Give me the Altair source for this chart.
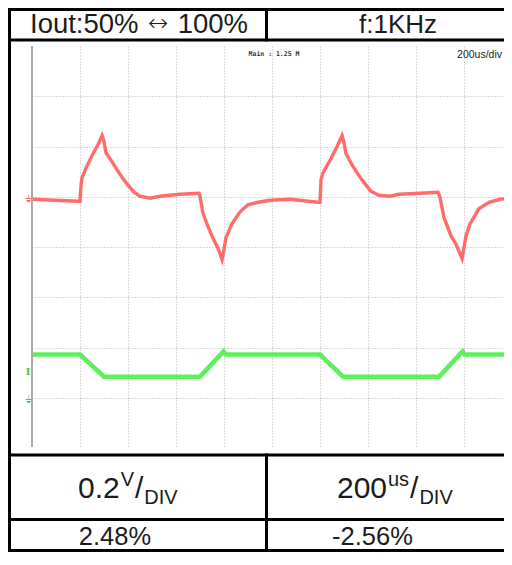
import altair as alt
import pandas as pd

# ---------------- data ----------------
# time in microseconds (200 us / div), level in screen divisions (0 = bottom, 8 = top)
x_grid = [200, 400, 600, 800, 1000, 1200, 1400, 1600, 1800]
y_grid = [1, 2, 3, 4, 5, 6, 7]

red_t = [0, 192, 200, 204, 208, 225, 250, 275, 292, 300, 308, 325, 350, 375, 400, 425,
         450, 492, 533, 617, 696, 700, 712, 729, 750, 775, 792, 800, 808, 833, 867,
         900, 942, 992, 1075, 1192, 1200, 1204, 1212, 1246, 1271, 1292, 1300, 1308,
         1333, 1358, 1379, 1412, 1446, 1492, 1529, 1617, 1692, 1700, 1717, 1746, 1767,
         1792, 1800, 1808, 1825, 1862, 1904, 1950, 1996]
red_v = [4.95, 4.91, 4.91, 5.21, 5.37, 5.57, 5.82, 6.04, 6.22, 6.10, 5.88, 5.76, 5.57,
         5.39, 5.23, 5.09, 5.01, 4.97, 5.01, 5.05, 5.07, 5.01, 4.68, 4.46, 4.22, 3.97,
         3.75, 3.95, 4.18, 4.46, 4.70, 4.84, 4.89, 4.93, 4.95, 4.89, 4.89, 5.33, 5.47,
         5.76, 6.00, 6.22, 6.08, 5.86, 5.64, 5.45, 5.31, 5.11, 5.03, 5.01, 5.05, 5.07,
         5.09, 4.99, 4.58, 4.22, 4.05, 3.77, 3.99, 4.22, 4.46, 4.76, 4.89, 4.95, 4.97]

green_t = [0, 200, 300, 700, 798, 806, 1200, 1296, 1696, 1794, 1802, 1996]
green_v = [1.86, 1.86, 1.42, 1.42, 1.92, 1.86, 1.86, 1.42, 1.42, 1.92, 1.86, 1.86]

# channel reference markers (level in divisions)
marker_levels = [4.96, 1.52, 0.95]

header_left = ["Iout:50%", "\u2194", "100%"]
header_right = "f:1KHz"
scale_main = ["0.2", "200"]
scale_sup = ["V", "us"]
scale_sub = ["DIV", "DIV"]
result_labels = ["2.48%", "-2.56%"]
scope_notes = ["Main : 1.25 M", "200us/div"]

# ---------------- chart ----------------
PX_PER_DIV_X = 48          # 200 us per 48 px
W, H = 472, 402            # visible part of the scope (page is 512 px wide)
T_MAX = 200 * W / PX_PER_DIV_X
FONT = "Liberation Sans"
INK = "#1c1c1c"
RED = "#ff6464"
GREEN = "#5cf05c"

red_df = pd.DataFrame({"t": red_t, "v": red_v})
green_df = pd.DataFrame({"t": green_t, "v": green_v})
one = pd.DataFrame({"a": [0]})

xs = alt.Scale(domain=[0, T_MAX], nice=False, zero=False)
ys = alt.Scale(domain=[0, 8], nice=False, zero=False)

x_axis = alt.Axis(values=x_grid, grid=True, gridColor="#b4b4b4", gridDash=[1, 2],
                  gridWidth=1, domain=False, ticks=False, labels=False, title=None)
y_axis = alt.Axis(values=y_grid, grid=True, gridColor="#b4b4b4", gridDash=[1, 2],
                  gridWidth=1, domain=False, ticks=False, labels=False, title=None)

green = alt.Chart(green_df).mark_line(color=GREEN, strokeWidth=4.5).encode(
    x=alt.X("t:Q", scale=xs, axis=x_axis),
    y=alt.Y("v:Q", scale=ys, axis=y_axis),
)
red = alt.Chart(red_df).mark_line(color=RED, strokeWidth=3.4, opacity=0.95).encode(
    x=alt.X("t:Q", scale=xs),
    y=alt.Y("v:Q", scale=ys),
)


def rule(x, y, x2, y2, color="black", w=3.0):
    return alt.Chart(one).mark_rule(color=color, strokeWidth=w, strokeCap="square").encode(
        x=alt.value(x), y=alt.value(y), x2=alt.value(x2), y2=alt.value(y2))


def txt(s, x, y, size, align="center", color=INK, font=FONT, weight="normal",
        baseline="alphabetic"):
    return alt.Chart(one).mark_text(text=s, align=align, baseline=baseline,
                                    fontSize=size, font=font, color=color,
                                    fontWeight=weight).encode(
        x=alt.value(x), y=alt.value(y))


def marker(s, level, color, font, weight="normal", size=10):
    return alt.Chart(one).mark_text(text=s, align="center", baseline="middle",
                                    fontSize=size, font=font, color=color,
                                    fontWeight=weight).encode(
        x=alt.value(-4), y=alt.datum(level, scale=ys))


layers = [green, red]

# scope frame line (solid light gray left edge)
layers.append(rule(0, 1, 0, H - 2, color="#ababab", w=2))

# channel markers at left edge
layers.append(marker("\u23da", marker_levels[0], RED, "DejaVu Sans"))
layers.append(marker("I", marker_levels[1], "#3ccc3c", "DejaVu Serif", "bold"))
layers.append(marker("\u23da", marker_levels[2], "#3ccc3c", "DejaVu Sans"))

# scope annotations
layers.append(txt(scope_notes[0], 242, 10, 6.5, color="#333333", font="DejaVu Sans Mono", weight="bold"))
layers.append(txt(scope_notes[1], 470, 12, 10.5, align="right", color="#222222", font=FONT))

# table borders (plot-relative pixel positions)
L, R = -22.5, 500
T, HB = -36.5, -6
SB, MB, BB = 409, 473.5, 504.5
COL = 234.5
layers += [
    rule(L, T, R, T), rule(L, HB, R, HB), rule(L, SB, R, SB), rule(L, MB, R, MB),
    rule(L, BB, R, BB), rule(L, T, L, BB),
    rule(COL, T, COL, HB), rule(COL, SB, COL, BB),
]

# header texts
HY = -13
layers.append(txt(header_left[0], -2, HY, 27.5, align="left"))
layers.append(txt(header_left[1], 126, -22, 24, font="DejaVu Sans", weight=300,
                  baseline="middle"))
layers.append(txt(header_left[2], 216, HY, 27.5, align="right"))
layers.append(txt(header_right, 366, HY, 26))

# scale texts with super/subscripts
base_y = 452
for x0, main, sup, sub in [(46, scale_main[0], scale_sup[0], scale_sub[0]),
                           (305, scale_main[1], scale_sup[1], scale_sub[1])]:
    w_main = {"0.2": 41.7, "200": 50.0}[main]
    w_sup = {"V": 13.3, "us": 21.1}[sup]
    layers.append(txt(main, x0, base_y, 30, align="left"))
    layers.append(txt(sup, x0 + w_main + 1, base_y - 12, 20, align="left"))
    xs_slash = x0 + w_main + w_sup + 2
    layers.append(txt("/", xs_slash, base_y, 30, align="left"))
    layers.append(txt(sub, xs_slash + 9.3, base_y + 6, 20, align="left"))

# result texts
layers.append(txt(result_labels[0], 83, 498.5, 25.5))
layers.append(txt(result_labels[1], 340.5, 498.5, 25.5))

chart = alt.layer(*layers).properties(
    width=W, height=H,
    autosize=alt.AutoSizeParams(type="none"),
    padding={"left": 24, "top": 38, "right": 0, "bottom": 104},
    background="white",
).configure_view(stroke=None)

chart.save("out.html", embed_options={"renderer": "svg", "actions": False})
